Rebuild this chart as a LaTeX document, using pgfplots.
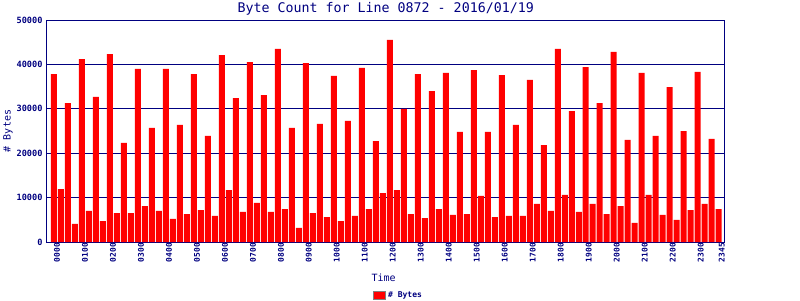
\documentclass[border=0pt]{standalone}
\usepackage{pgfplots}
\pgfplotsset{compat=1.18}
\usepackage{fontspec}
\setmainfont{DejaVu Sans Mono}
\setmonofont{DejaVu Sans Mono}
\definecolor{navy}{RGB}{0,0,128}
\definecolor{barred}{RGB}{255,0,0}
\pgfplotstableread{
x y
0 37800
1 11900
2 31300
3 4100
4 41200
5 7000
6 32700
7 4700
8 42300
9 6500
10 22300
11 6500
12 39000
13 8100
14 25700
15 7000
16 39000
17 5200
18 26400
19 6300
20 37800
21 7200
22 23900
23 5900
24 42100
25 11700
26 32400
27 6800
28 40500
29 8800
30 33100
31 6800
32 43500
33 7400
34 25700
35 3200
36 40300
37 6500
38 26600
39 5600
40 37400
41 4700
42 27300
43 5900
44 39200
45 7400
46 22700
47 11000
48 45500
49 11700
50 30000
51 6300
52 37800
53 5400
54 34000
55 7400
56 38100
57 6100
58 24800
59 6300
60 38700
61 10400
62 24800
63 5600
64 37600
65 5900
66 26400
67 5900
68 36500
69 8600
70 21800
71 7000
72 43500
73 10600
74 29500
75 6800
76 39400
77 8600
78 31300
79 6300
80 42800
81 8100
82 23000
83 4300
84 38100
85 10600
86 23900
87 6100
88 34900
89 5000
90 25000
91 7200
92 38300
93 8600
94 23200
95 7400
}\bytes
\begin{document}
\begin{tikzpicture}
\begin{axis}[
  scale only axis, width=678pt, height=222pt,
  xmin=-1.04, xmax=95.86, ymin=0, ymax=50000,
  ybar, bar width=6pt,
  axis line style={navy, line width=1pt},
  ytick={0,10000,20000,30000,40000,50000},
  ymajorgrids, grid style={navy, line width=1pt},
  xtick={0,4,8,12,16,20,24,28,32,36,40,44,48,52,56,60,64,68,72,76,80,84,88,92,95},
  xticklabels={0000,0100,0200,0300,0400,0500,0600,0700,0800,0900,1000,1100,1200,1300,1400,1500,1600,1700,1800,1900,2000,2100,2200,2300,2345},
  major tick length=0pt,
  scaled y ticks=false,
  /pgf/number format/assume math mode=true,
  /pgf/number format/1000 sep={},
  x tick label style={rotate=90, anchor=east, font=\fontsize{7.9}{8}\selectfont\bfseries, text=navy, inner sep=1pt, yshift=-3pt},
  y tick label style={font=\fontsize{8.6}{9}\selectfont\bfseries, text=navy, inner sep=1pt, xshift=-3pt},
  title={Byte Count for Line 0872 - 2016/01/19},
  title style={at={(axis description cs:0.5,1)}, anchor=center, yshift=5pt, font=\fontsize{13.3}{14}\selectfont, text=navy},
  xlabel={Time},
  xlabel style={at={(axis description cs:0.497,-0.162)}, anchor=center, font=\fontsize{10}{11}\selectfont, text=navy},
  ylabel={\# Bytes},
  ylabel style={at={(axis description cs:-0.057,0.5)}, anchor=center, font=\fontsize{10}{11}\selectfont, text=navy},
  legend style={at={(axis description cs:0.519,-0.239)}, anchor=center, draw=none, fill=none, font=\fontsize{8}{9}\selectfont\bfseries, text=navy, inner sep=0pt},
]
\addplot[fill=barred, draw=none, bar shift=0pt,
  legend image code/.code={\draw[fill=barred, draw=gray, line width=1pt] (0pt,-4pt) rectangle (12pt,4pt);}]
  table[x=x, y=y] {\bytes};
\addlegendentry{\# Bytes}
\end{axis}
\pgfresetboundingbox
\path[use as bounding box] (-46.7pt,-58pt) rectangle (753.3pt,242pt);
\end{tikzpicture}
\end{document}
